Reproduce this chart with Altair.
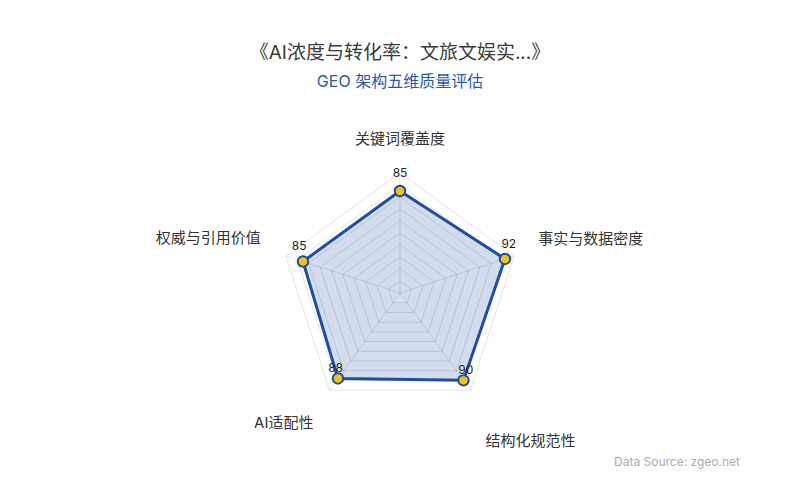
import math
import altair as alt
import pandas as pd

# ---- data ----
categories = ["关键词覆盖度", "事实与数据密度", "结构化规范性", "AI适配性", "权威与引用价值"]
values = [85, 92, 90, 88, 85]
grid_levels = [10, 20, 30, 40, 50, 60, 70, 80, 90, 100]
max_value = 100
title_text = "《AI浓度与转化率：文旅文娱实...》"
subtitle_text = "GEO 架构五维质量评估"
source_text = "Data Source: zgeo.net"

# ---- geometry helpers ----
W, H = 784, 484
PX_PER_UNIT = 1.2
CX, CY = 392, 285  # centre in plot pixels
xdom = [-CX / PX_PER_UNIT, (W - CX) / PX_PER_UNIT]
ydom = [-(H - CY) / PX_PER_UNIT, CY / PX_PER_UNIT]

n = len(categories)
angles = [math.radians(90 - 360 / n * i) for i in range(n)]

def pt(r, a):
    return r * math.cos(a), r * math.sin(a)

rows = []
for i, (c, v) in enumerate(zip(categories, values)):
    x, y = pt(v, angles[i])
    lx, ly = pt(v + 4 / PX_PER_UNIT, angles[i])
    ox, oy = pt(max_value, angles[i])
    rows.append(dict(cat=c, val=v, idx=i, x=x, y=y, lx=lx, ly=ly, ox=ox, oy=oy))
df = pd.DataFrame(rows)

grid_rows = []
for L in grid_levels:
    for i in range(n):
        x, y = pt(L, angles[i])
        grid_rows.append(dict(level=L, idx=i, x=x, y=y))
gdf = pd.DataFrame(grid_rows)

XS = alt.Scale(domain=xdom, nice=False, zero=False)
YS = alt.Scale(domain=ydom, nice=False, zero=False)
X = alt.X("x:Q", scale=XS, axis=None)
Y = alt.Y("y:Q", scale=YS, axis=None)

FONT = "Inter, Noto Sans CJK SC, sans-serif"
BLUE = "#1f4ea0"

fill_poly = alt.Chart(df).mark_line(
    interpolate="linear-closed", fill=BLUE, fillOpacity=0.2, strokeOpacity=0, clip=False
).encode(x=X, y=Y, order=alt.Order("idx:Q"))

rings = alt.Chart(gdf).mark_line(
    interpolate="linear-closed", color="#000", strokeOpacity=0.11, strokeWidth=1
).encode(x=X, y=Y, detail="level:N", order=alt.Order("idx:Q"))

spokes = alt.Chart(df).mark_rule(color="#000", strokeOpacity=0.11, strokeWidth=1).encode(
    x=alt.X("zero:Q", scale=XS, axis=None),
    y=alt.Y("zero:Q", scale=YS, axis=None),
    x2="ox:Q", y2="oy:Q",
).transform_calculate(zero="0")

outline = alt.Chart(df).mark_line(
    interpolate="linear-closed", color=BLUE, strokeWidth=3, strokeJoin="round"
).encode(x=X, y=Y, order=alt.Order("idx:Q"))

points = alt.Chart(df).mark_point(
    filled=True, fill="#f2c21b", stroke=BLUE, strokeWidth=2, size=110, opacity=1
).encode(x=X, y=Y)

val_labels = alt.Chart(df).mark_text(
    font=FONT, fontSize=12, color="#222", dy=-14, baseline="middle"
).encode(
    x=alt.X("lx:Q", scale=XS, axis=None),
    y=alt.Y("ly:Q", scale=YS, axis=None),
    text="val:Q",
)

label_style = {
    0: dict(align="center", dx=0, dy=-34),
    1: dict(align="left", dx=24, dy=-17),
    2: dict(align="left", dx=15, dy=51),
    3: dict(align="right", dx=-16, dy=33),
    4: dict(align="right", dx=-25, dy=-18),
}
cat_layers = []
for i in range(n):
    s = label_style[i]
    cat_layers.append(
        alt.Chart(df).transform_filter(alt.datum.idx == i).mark_text(
            font=FONT, fontSize=15, color="#333", baseline="middle", **s
        ).encode(
            x=alt.X("ox:Q", scale=XS, axis=None),
            y=alt.Y("oy:Q", scale=YS, axis=None),
            text="cat:N",
        )
    )

one = pd.DataFrame({"t": [title_text], "s": [subtitle_text], "d": [source_text]})
title = alt.Chart(one).mark_text(
    font=FONT, fontSize=19, color="#3a3a3a", align="center", baseline="middle"
).encode(x=alt.value(392), y=alt.value(45), text="t:N")
subtitle = alt.Chart(one).mark_text(
    font=FONT, fontSize=16, color="#2a58a8", align="center", baseline="middle"
).encode(x=alt.value(392), y=alt.value(74), text="s:N")
source = alt.Chart(one).mark_text(
    font=FONT, fontSize=12, color="#aaaaaa", align="right", baseline="middle"
).encode(x=alt.value(732), y=alt.value(454), text="d:N")

chart = alt.layer(
    fill_poly, rings, spokes, outline, points, val_labels, *cat_layers, title, subtitle, source
).properties(
    width=W, height=H, padding=0, autosize=alt.AutoSizeParams(type="none"), background="white"
).configure_view(stroke=None)

chart.save("out.html", embed_options={"renderer": "svg", "actions": False})
